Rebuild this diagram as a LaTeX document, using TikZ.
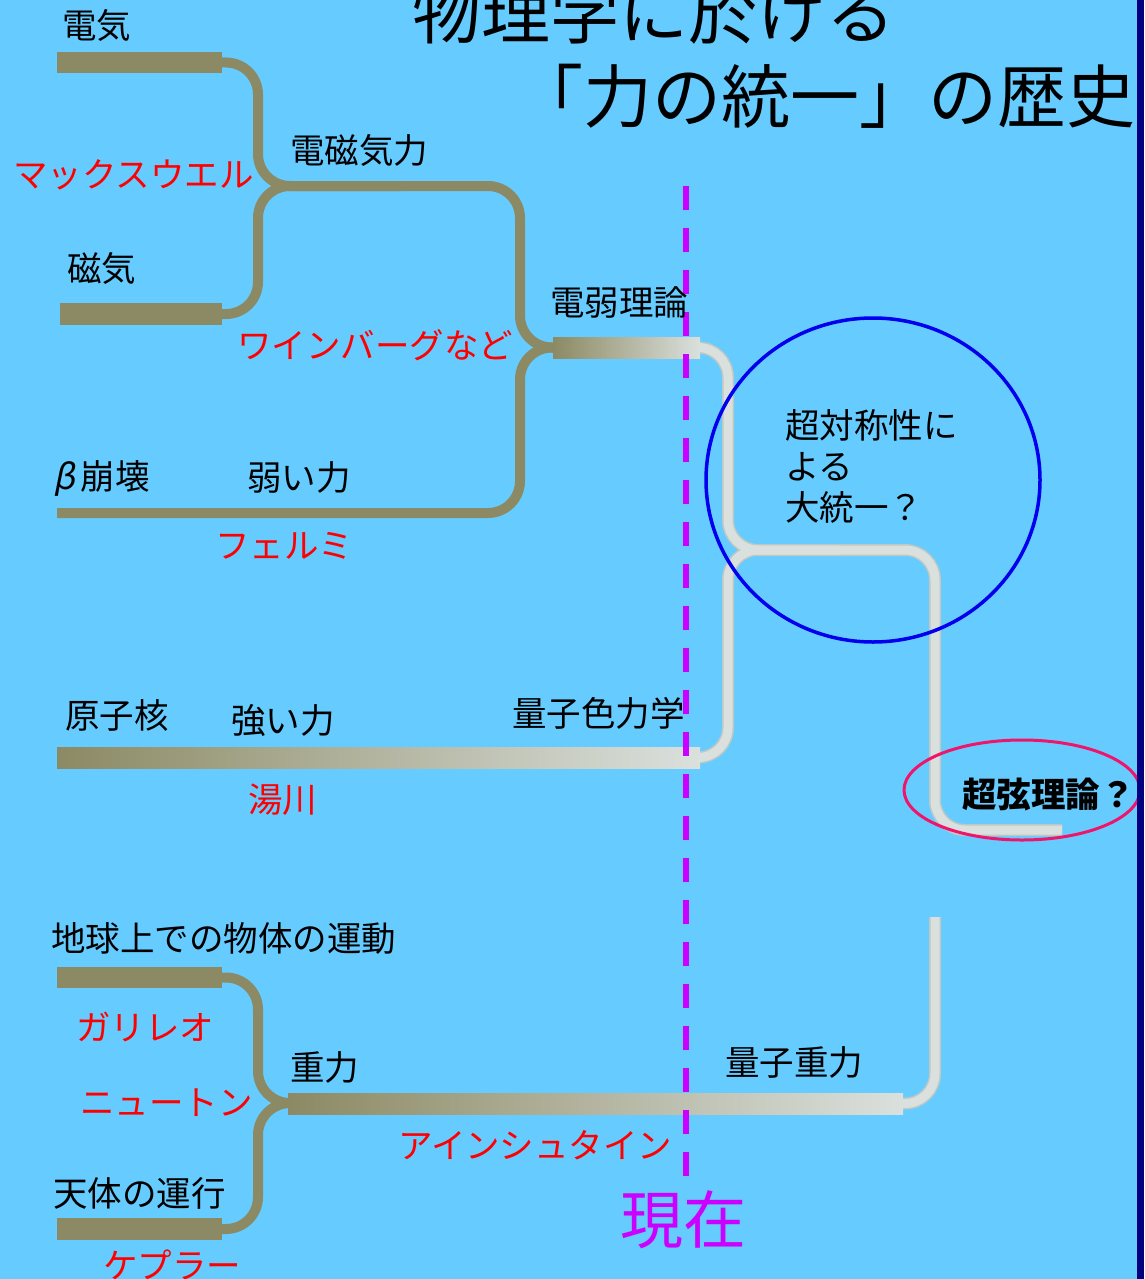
\documentclass[tikz,border=0pt]{standalone}
\usepackage{fontspec}
\setmainfont{Noto Sans CJK JP}
\newfontfamily\slantjp{Noto Sans CJK JP}[FakeSlant=0.2]
\usetikzlibrary{shapes.geometric}
\definecolor{bg}{HTML}{66CCFF}
\definecolor{olv}{HTML}{8C8A64}
\definecolor{lgt}{HTML}{DAE0DD}
\definecolor{lgtE}{HTML}{C0C8C4}
\definecolor{navy}{HTML}{000080}
\definecolor{mag}{HTML}{CC00FF}
\definecolor{cblue}{HTML}{0000EE}
\definecolor{cpink}{HTML}{F0146A}
\definecolor{tred}{HTML}{FF0000}
\newcommand\lightpaths{%
  \draw (denjaku.center) -| (ewJ) -- (gutR) |- (strEnd);
  \draw (genshi.center) -| (ewJ) -- (gutMid);
  \draw (juryoku.center) -| (qgTop);
}
\begin{document}
\begin{tikzpicture}[x=1pt,y=-1pt,
  lbl/.style={anchor=west, inner sep=0pt, font=\fontsize{34.5}{41}\selectfont, text=black},
  rlbl/.style={lbl, text=tred},
  bar/.style={rectangle, inner sep=0pt, minimum height=21pt, fill=olv},
  gbar/.style={rectangle, inner sep=0pt, minimum height=21pt, left color=olv, right color=lgt},
  otube/.style={draw=olv, line width=10pt, rounded corners=32pt},
]
\useasboundingbox (0,0) rectangle (1144,1279);
\clip (0,0) rectangle (1144,1279);
\fill[bg] (0,0) rectangle (1144,1279);

% bars (positions only; filled later on top of tubes)
\path
  (139.5,62.5) node[bar, minimum width=165pt, fill=none] (denki) {}
  (141,314) node[bar, minimum width=162pt, fill=none] (jiki) {}
  (626.5,347.5) node[bar, minimum width=147pt, fill=none] (denjaku) {}
  (378.5,757.5) node[bar, minimum width=643pt, fill=none] (genshi) {}
  (139.5,977.5) node[bar, minimum width=165pt, fill=none] (chikyu) {}
  (139.5,1229) node[bar, minimum width=165pt, fill=none] (tentai) {}
  (595.5,1103.5) node[bar, minimum width=615pt, fill=none] (juryoku) {};

% junction coordinates
\coordinate (emJ) at (258,186);
\coordinate (emMid) at (400,186);
\coordinate (emR) at (520,186);
\coordinate (weakStart) at (57,513);
\coordinate (weakR) at (520,513);
\coordinate (grJ) at (258,1103);
\coordinate (ewJ) at (728,550);
\coordinate (gutMid) at (840,550);
\coordinate (gutR) at (935,550);
\coordinate (strEnd) at (1062,830);
\coordinate (qgTop) at (935,917);
\coordinate (nowTop) at (686,186);
\coordinate (nowBot) at (686,1177);

% olive tubes
\draw[otube] (denki.east) -| (emJ) -- (emR) |- (denjaku.center);
\draw[otube] (jiki.east) -| (emJ) -- (emMid);
\draw[otube] (weakStart) -- (weakR) |- (denjaku.center);
\draw[otube] (chikyu.east) -| (grJ) -- (juryoku.center);
\draw[otube] (tentai.east) -| (grJ) -- (juryoku.center);

% light tubes
\begin{scope}[draw=lgtE, line width=12pt, rounded corners=30pt]
  \lightpaths
\end{scope}
\begin{scope}[draw=lgt, line width=9pt, rounded corners=30pt]
  \lightpaths
\end{scope}

% bars filled
\node[bar, minimum width=165pt] at (denki) {};
\node[bar, minimum width=162pt, minimum height=22pt] at (jiki) {};
\node[gbar, minimum width=147pt] at (denjaku) {};
\node[gbar, minimum width=643pt] at (genshi) {};
\node[bar, minimum width=165pt] at (chikyu) {};
\node[bar, minimum width=165pt, minimum height=22pt] at (tentai) {};
\node[gbar, minimum width=615pt] at (juryoku) {};

% circles
\node[ellipse, draw=cblue, line width=3.5pt, minimum width=334pt, minimum height=324pt, inner sep=0pt] (gut) at (873,480) {};
\node[ellipse, draw=cpink, line width=3pt, minimum width=236pt, minimum height=100pt, inner sep=0pt] (sst) at (1022,790) {};

% now line
\draw[mag, line width=6pt, dash pattern=on 24pt off 18pt] (nowTop) -- (nowBot);

% title
\node[anchor=west, inner sep=0pt, font=\fontsize{69}{72}\selectfont] (t1) at (412,12) {物理学に於ける};
\node[anchor=east, inner sep=0pt, font=\fontsize{69}{72}\selectfont] (t2) at (1136,96) {「力の統一」の歴史};

% labels
\node[lbl] (l1) at (62,25) {電気};
\node[lbl] (l2) at (290,150) {電磁気力};
\node[rlbl] (r1) at (13,175) {マックスウエル};
\node[lbl] (l3) at (67,268) {磁気};
\node[rlbl] (r2) at (237,345) {ワインバーグなど};
\node[lbl] (l4) at (550,302) {電弱理論};
\node[lbl] (l5) at (53,478) {{\slantjp β}\kern6pt 崩壊};
\node[lbl] (l6) at (247,477) {弱い力};
\node[rlbl] (r3) at (215,546) {フェルミ};
\node[lbl, align=left] (l7) at (785,466) {超対称性に\\よる\\大統一？};
\node[lbl] (l8) at (65,715) {原子核};
\node[lbl] (l9) at (231,720) {強い力};
\node[lbl] (l10) at (512,713) {量子色力学};
\node[rlbl] (r4) at (248,800) {湯川};
\node[lbl, font=\fontsize{34.5}{41}\selectfont\bfseries] (l11) at (962,795) {超弦理論？};
\node[lbl] (l12) at (51,938) {地球上での物体の運動};
\node[rlbl] (r5) at (76,1027) {ガリレオ};
\node[lbl] (l13) at (290,1067) {重力};
\node[rlbl] (r6) at (80,1103) {ニュートン};
\node[lbl] (l14) at (725,1062) {量子重力};
\node[rlbl] (r7) at (398,1145) {アインシュタイン};
\node[lbl] (l15) at (53,1193) {天体の運行};
\node[rlbl] (r8) at (103,1265) {ケプラー};
\node[anchor=west, inner sep=0pt, text=mag, font=\fontsize{63}{68}\selectfont] (now) at (620,1220) {現在};

% right edge strip
\fill[navy] (1137,0) rectangle (1144,1279);
\end{tikzpicture}
\end{document}
